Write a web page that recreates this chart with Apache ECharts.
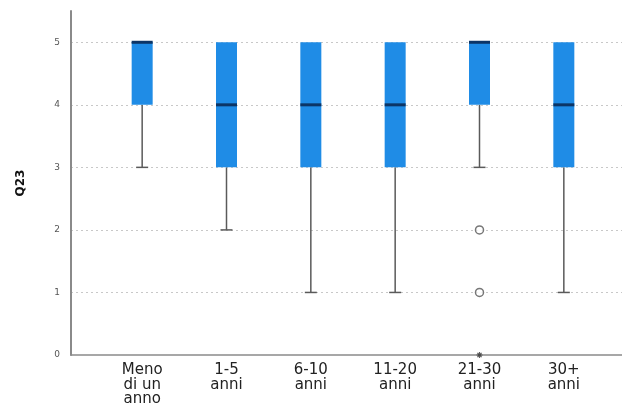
<!DOCTYPE html>
<html><head><meta charset="utf-8">
<script src="https://cdn.jsdelivr.net/npm/echarts@6/dist/echarts.min.js"></script>
<style>html,body{margin:0;padding:0;background:#fff}#c{width:622px;height:416px}</style>
</head><body><div id="c"></div>
<script>
const categories = ['Meno\ndi un\nanno', '1-5\nanni', '6-10\nanni', '11-20\nanni', '21-30\nanni', '30+\nanni'];
const mins    = [3, 2, 1, 1, 3, 1];
const q1s     = [4, 3, 3, 3, 4, 3];
const medians = [5, 4, 4, 4, 5, 4];
const q3s     = [5, 5, 5, 5, 5, 5];
const maxs    = [5, 5, 5, 5, 5, 5];
const outlierCats = [4, 4];
const outlierVals = [2, 1];
const extremeCats = [4];
const extremeVals = [0];
const yTicks = [0, 1, 2, 3, 4, 5];

const boxData = categories.map((c, i) => [i, mins[i], q1s[i], medians[i], q3s[i], maxs[i]]);
const outData = outlierCats.map((c, i) => [c, outlierVals[i]]);
const extData = extremeCats.map((c, i) => [c, extremeVals[i]]);

const chart = echarts.init(document.getElementById('c'));
const font = 'DejaVu Sans';
chart.setOption({
  animation: false,
  backgroundColor: '#fff',
  grid: [
    { left: 71, right: 0, top: 11, bottom: 61 },
    { left: 100, right: 16, top: 11, bottom: 61 }
  ],
  xAxis: [
    { gridIndex: 0, type: 'value', min: 0, max: 1, axisLine: { show: true, onZero: false, lineStyle: { color: '#8a8a8a', width: 1.5 } },
      axisTick: { show: false }, axisLabel: { show: false }, splitLine: { show: false } },
    { gridIndex: 1, type: 'category', data: categories, boundaryGap: true,
      axisLine: { show: false }, axisTick: { show: false },
      axisLabel: { interval: 0, margin: 8, color: '#222', fontFamily: font, fontSize: 15, lineHeight: 14.5 } }
  ],
  yAxis: [
    { gridIndex: 0, type: 'value', min: 0, max: 5.5, interval: 1,
      name: 'Q23', nameLocation: 'middle', nameGap: 44, nameRotate: 90,
      nameTextStyle: { color: '#111', fontFamily: font, fontSize: 12, fontWeight: 'bold' },
      axisLine: { show: true, lineStyle: { color: '#8a8a8a', width: 2 } },
      axisTick: { show: false },
      axisLabel: { showMaxLabel: false, margin: 11, color: '#555', fontFamily: font, fontSize: 9,
        formatter: v => (yTicks.indexOf(v) >= 0 ? String(v) : '') },
      splitLine: { show: true, showMinLine: false, showMaxLine: false, lineStyle: { color: '#c8c8c8', type: [2, 3], width: 1 } } },
    { gridIndex: 1, type: 'value', min: 0, max: 5.5, interval: 1, show: false, splitLine: { show: false } }
  ],
  series: [
    {
      type: 'custom', xAxisIndex: 1, yAxisIndex: 1, data: boxData,
      renderItem: function (params, api) {
        const x = api.value(0);
        const lo = api.coord([x, api.value(1)]);
        const q1 = api.coord([x, api.value(2)]);
        const med = api.coord([x, api.value(3)]);
        const q3 = api.coord([x, api.value(4)]);
        const hi = api.coord([x, api.value(5)]);
        const bw = 21, cap = 12;
        const cx = q1[0];
        const wStyle = { stroke: '#5a5a5a', lineWidth: 1.5 };
        return {
          type: 'group',
          children: [
            { type: 'line', shape: { x1: cx, y1: q1[1], x2: cx, y2: lo[1] }, style: wStyle },
            { type: 'line', shape: { x1: cx - cap / 2, y1: lo[1], x2: cx + cap / 2, y2: lo[1] }, style: wStyle },
            { type: 'rect', shape: { x: cx - bw / 2, y: q3[1], width: bw, height: q1[1] - q3[1] },
              style: { fill: '#1f8ce6', stroke: null } },
            { type: 'line', shape: { x1: cx - bw / 2, y1: med[1], x2: cx + bw / 2, y2: med[1] },
              style: { stroke: '#0c3566', lineWidth: 3 } }
          ]
        };
      }
    },
    {
      type: 'scatter', xAxisIndex: 1, yAxisIndex: 1, data: outData,
      symbol: 'circle', symbolSize: 8,
      itemStyle: { color: '#fff', borderColor: '#555', borderWidth: 1.5 }
    },
    {
      type: 'scatter', xAxisIndex: 1, yAxisIndex: 1, data: extData,
      symbol: 'path://M5,0L5,10M0,5L10,5M1.5,1.5L8.5,8.5M8.5,1.5L1.5,8.5', symbolSize: 6,
      itemStyle: { color: 'none', borderColor: '#333', borderWidth: 1.2 }
    }
  ]
});
</script>
</body></html>
